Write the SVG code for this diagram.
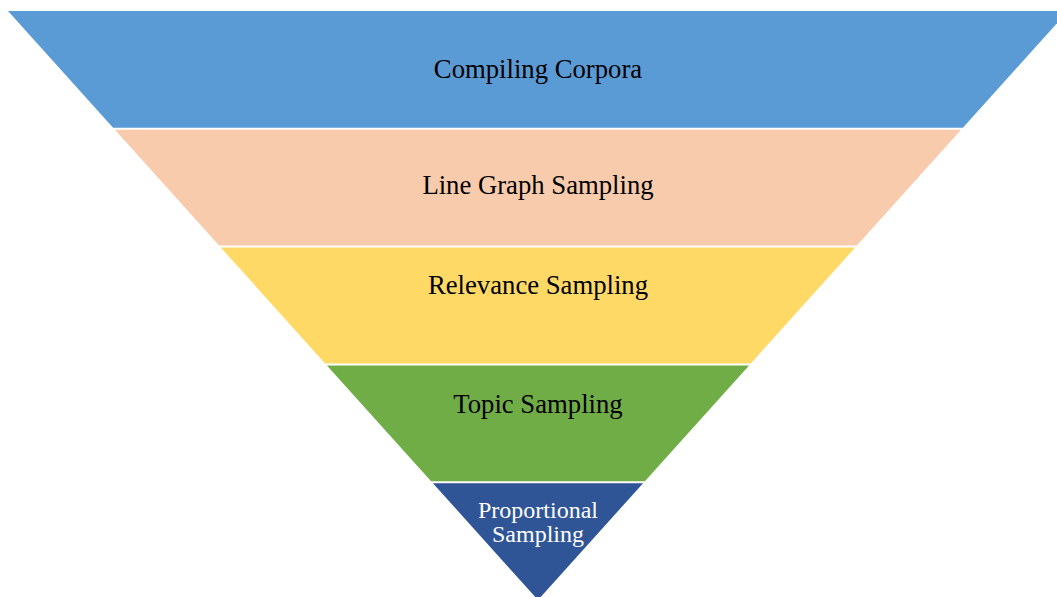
<svg xmlns="http://www.w3.org/2000/svg" width="1057" height="597" viewBox="0 0 1057 597">
<style>
.lbl{font-family:"Liberation Serif","Times New Roman",serif;font-size:26.7px;fill:#000;text-anchor:middle}
.lblw{font-family:"Liberation Serif","Times New Roman",serif;font-size:24px;fill:#fff;text-anchor:middle}
</style>
<rect width="1057" height="597" fill="#fff"/>
<g id="compiling-corpora">
<polygon points="8,11 1068,11 962.9,127.8 113.1,127.8" fill="#5B9BD5"/>
<text class="lbl" x="538" y="77.5">Compiling Corpora</text>
</g>
<g id="line-graph-sampling">
<polygon points="114.9,129.8 961.1,129.8 856.9,245.6 219.1,245.6" fill="#F8CBAD"/>
<text class="lbl" x="538" y="194">Line Graph Sampling</text>
</g>
<g id="relevance-sampling">
<polygon points="220.9,247.6 855.1,247.6 750.9,363.4 325.1,363.4" fill="#FFD966"/>
<text class="lbl" x="538" y="294">Relevance Sampling</text>
</g>
<g id="topic-sampling">
<polygon points="326.9,365.4 749.1,365.4 644.9,481.2 431.1,481.2" fill="#70AD47"/>
<text class="lbl" x="538" y="413.3">Topic Sampling</text>
</g>
<g id="proportional-sampling">
<polygon points="432.9,483.2 643.1,483.2 538,600" fill="#2F5597"/>
<text class="lblw" x="538" y="517.7">Proportional</text>
<text class="lblw" x="538" y="541.7">Sampling</text>
</g>
<g id="connectors"></g>
</svg>
